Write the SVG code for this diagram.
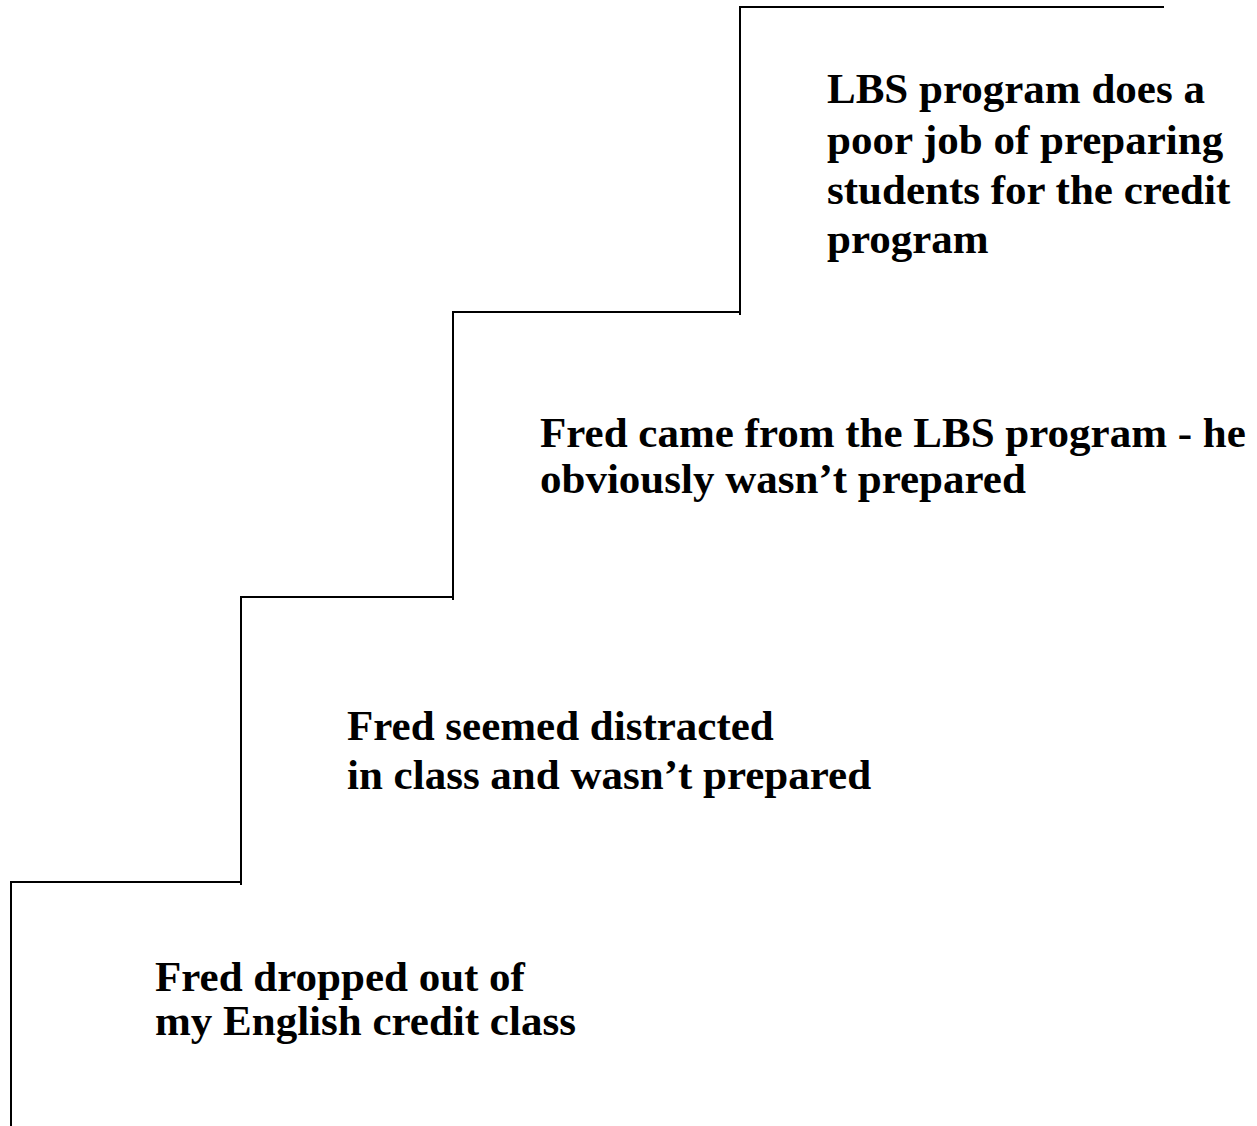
<svg xmlns="http://www.w3.org/2000/svg" width="1257" height="1126" viewBox="0 0 1257 1126">
<style>
.t{font-family:"Liberation Serif","Times New Roman",serif;font-weight:bold;font-size:43px;fill:#000}
.s{fill:none;stroke:#000;stroke-width:2}
</style>
<rect width="1257" height="1126" fill="#fff"/>
<g id="connectors">
<path class="s" d="M11,1126 V882 H241 V885"/>
<path class="s" d="M241,882 V597 H453 V600"/>
<path class="s" d="M453,597 V312 H740 V315"/>
<path class="s" d="M740,312 V7 H1164"/>
</g>
<g id="step1"><text class="t" x="155" y="991">Fred dropped out of</text><text class="t" x="155" y="1035">my English credit class</text></g>
<g id="step2"><text class="t" x="347" y="740">Fred seemed distracted</text><text class="t" x="347" y="789">in class and wasn’t prepared</text></g>
<g id="step3"><text class="t" x="540" y="447">Fred came from the LBS program - he</text><text class="t" x="540" y="493">obviously wasn’t prepared</text></g>
<g id="step4"><text class="t" x="827" y="103">LBS program does a</text><text class="t" x="827" y="154">poor job of preparing</text><text class="t" x="827" y="204">students for the credit</text><text class="t" x="827" y="253">program</text></g>
</svg>
